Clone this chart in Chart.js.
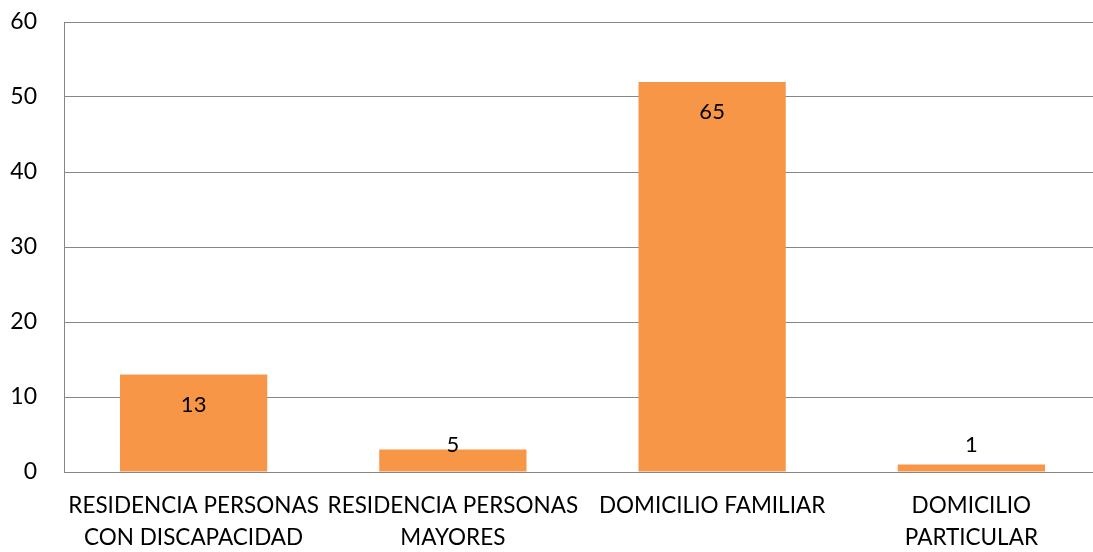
<!DOCTYPE html>
<html>
<head>
<meta charset="utf-8">
<script src="https://cdn.jsdelivr.net/npm/chart.js@4"></script>
<style>
    html, body { margin: 0; padding: 0; background: #fff; overflow: hidden; }
    #wrap { width: 1093px; height: 552px; overflow: hidden; }
</style>
</head>
<body>
<div id="wrap"><canvas id="barChart" width="1101" height="552"></canvas></div>
<script>
// カテゴリと値
const categories = [
    ['RESIDENCIA PERSONAS', 'CON DISCAPACIDAD'],
    ['RESIDENCIA PERSONAS', 'MAYORES'],
    'DOMICILIO FAMILIAR',
    ['DOMICILIO', 'PARTICULAR']
];
const barValues = [13, 3, 52, 1];
const barLabels = ['13', '5', '65', '1'];
const yTicks = [0, 10, 20, 30, 40, 50, 60];

const FONT = 'Lato, "Open Sans", sans-serif';

// バーのラベル描画
const barLabelPlugin = {
    id: 'barLabels',
    afterDatasetsDraw(chart) {
        const ctx = chart.ctx;
        const meta = chart.getDatasetMeta(0);
        const base = chart.scales.y.getPixelForValue(0);
        ctx.save();
        ctx.font = '22px ' + FONT;
        ctx.fillStyle = '#000';
        ctx.textAlign = 'center';
        ctx.textBaseline = 'middle';
        meta.data.forEach((bar, i) => {
            const y = Math.min(bar.y + 30, base - 27);
            ctx.fillText(barLabels[i], bar.x, y);
        });
        ctx.restore();
    }
};

new Chart(document.getElementById('barChart').getContext('2d'), {
    type: 'bar',
    data: {
        labels: categories,
        datasets: [{
            data: barValues,
            backgroundColor: '#F79646',
            categoryPercentage: 1,
            barPercentage: 0.568
        }]
    },
    options: {
        responsive: false,
        animation: false,
        layout: { padding: { top: 22, right: 0, left: 0, bottom: 0 } },
        plugins: {
            legend: { display: false },
            tooltip: { enabled: false }
        },
        scales: {
            x: {
                grid: { display: false, drawTicks: false },
                border: { display: true, color: '#868686', width: 1 },
                ticks: {
                    color: '#000',
                    font: { family: FONT, size: 22.5, lineHeight: 1.45 },
                    padding: 17,
                    maxRotation: 0,
                    autoSkip: false
                },
                afterFit(scale) {
                    scale.height = 80;
                    scale.paddingLeft = 0;
                    scale.paddingRight = 0;
                }
            },
            y: {
                min: 0,
                max: 60,
                afterBuildTicks(scale) { scale.ticks = yTicks.map(v => ({ value: v })); },
                grid: { color: '#868686', lineWidth: 1, drawTicks: false },
                border: { display: true, color: '#868686', width: 1 },
                ticks: {
                    color: '#000',
                    font: { family: FONT, size: 23 },
                    padding: 27
                },
                afterFit(scale) {
                    scale.width = 64;
                    scale.paddingTop = 0;
                    scale.paddingBottom = 0;
                }
            }
        }
    },
    plugins: [barLabelPlugin]
});
</script>
</body>
</html>
